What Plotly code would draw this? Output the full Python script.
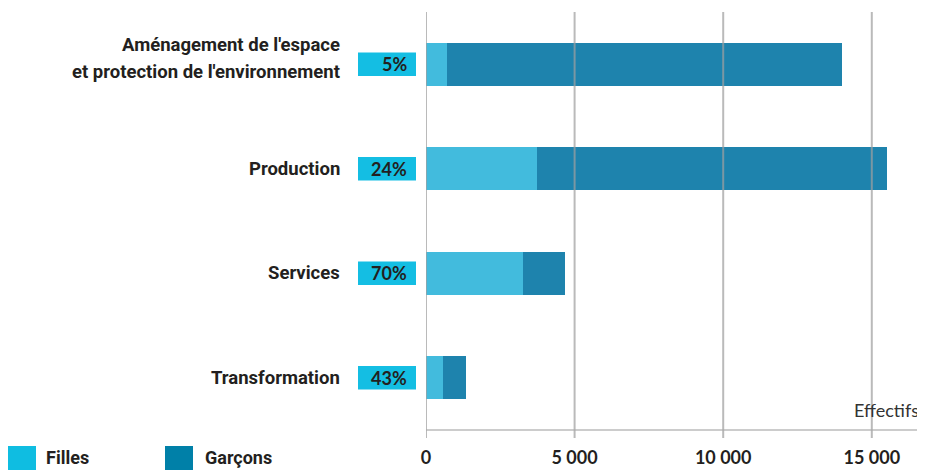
import plotly.graph_objects as go

categories = ["Aménagement de l'espace<br>et protection de l'environnement", "Production", "Services", "Transformation"]
cat_lines = [["Aménagement de l'espace", "et protection de l'environnement"], ["Production"], ["Services"], ["Transformation"]]
filles = [690, 3740, 3260, 575]
garcons = [13300, 11770, 1400, 770]
pct_labels = ["5%", "24%", "70%", "43%"]
tick_vals = [0, 5000, 10000, 15000]
tick_text = ["0", "5 000", "10 000", "15 000"]
series_names = ["Filles", "Garçons"]

# page body has an 8px default margin: the figure is placed at (8, 8)
OFF = 8
W, H = 925 - OFF, 470 - OFF
ML, MR, MT, MB = 426 - OFF, 0, 12 - OFF, 40
PW = W - ML - MR
PH = H - MT - MB
XMAX = 16790

def px2paperx(px):
    return (px - OFF - ML) / PW

def px2papery(py):
    return (H - MB - (py - OFF)) / PH

C_F_BAR = "#42BBDD"
C_G_BAR = "#1E83AD"
C_F_LEG = "#0FBDE1"
C_G_LEG = "#0080A8"
C_BOX = "#14BEE3"
GRID = "rgba(160,160,160,0.72)"
TXT = "#231f20"

ypos = list(range(len(categories)))

fig = go.Figure()
fig.add_trace(go.Bar(y=ypos, x=filles, orientation="h", marker=dict(color=C_F_BAR, line=dict(width=0)),
                     width=0.41, name=series_names[0], showlegend=False))
fig.add_trace(go.Bar(y=ypos, x=garcons, orientation="h", marker=dict(color=C_G_BAR, line=dict(width=0)),
                     width=0.41, name=series_names[1], showlegend=False))

shapes = []
annotations = []

for tv in tick_vals:
    shapes.append(dict(type="line", xref="x", yref="paper", x0=tv, x1=tv, y0=-8 / PH, y1=1,
                       line=dict(color=GRID, width=2), layer="above"))
shapes.append(dict(type="line", xref="paper", yref="paper", x0=0, x1=1, y0=0, y1=0,
                   line=dict(color="rgba(170,170,170,0.8)", width=1.5), layer="above"))

CAT_FONT = dict(family="Roboto", size=18.5, color=TXT)
for i, lines in enumerate(cat_lines):
    if len(lines) == 1:
        annotations.append(dict(x=px2paperx(342), y=i, xref="paper", yref="y", text="<b>" + lines[0] + "</b>",
                                showarrow=False, xanchor="right", yanchor="middle", font=CAT_FONT))
    else:
        offs = [-19.5 / 104.5, 7.5 / 104.5]
        for ln, o in zip(lines, offs):
            annotations.append(dict(x=px2paperx(342), y=i + o, xref="paper", yref="y", text="<b>" + ln + "</b>",
                                    showarrow=False, xanchor="right", yanchor="middle", font=CAT_FONT))
    shapes.append(dict(type="rect", xref="paper", yref="y", x0=px2paperx(358), x1=px2paperx(416),
                       y0=i - 0.113, y1=i + 0.113, fillcolor=C_BOX, line=dict(width=0), layer="above"))
    annotations.append(dict(x=px2paperx(409), y=i, xref="paper", yref="y", text="<b>" + pct_labels[i] + "</b>",
                            showarrow=False, xanchor="right", yanchor="middle",
                            font=dict(family="Lato", size=18, color=TXT)))

annotations.append(dict(x=px2paperx(921), y=px2papery(410), xref="paper", yref="paper", text="Effectifs",
                        showarrow=False, xanchor="right", yanchor="middle",
                        font=dict(family="Lato", size=18, color="#333333")))

leg = [(8, 36, 45, series_names[0], C_F_LEG), (165, 193, 204, series_names[1], C_G_LEG)]
for x0, x1, tx, name, col in leg:
    shapes.append(dict(type="rect", xref="paper", yref="paper", x0=px2paperx(x0), x1=px2paperx(x1),
                       y0=px2papery(446), y1=px2papery(472), fillcolor=col, line=dict(width=0)))
    annotations.append(dict(x=px2paperx(tx), y=px2papery(457), xref="paper", yref="paper",
                            text="<b>" + name + "</b>", showarrow=False, xanchor="left", yanchor="middle",
                            borderpad=0, font=dict(family="Roboto", size=18, color=TXT)))

fig.update_layout(
    width=W, height=H,
    margin=dict(l=ML, r=MR, t=MT, b=MB, pad=0, autoexpand=False),
    barmode="stack",
    plot_bgcolor="white", paper_bgcolor="white",
    showlegend=False,
    shapes=shapes, annotations=annotations,
    xaxis=dict(range=[0, XMAX], showgrid=False, zeroline=False, showline=False, automargin=False,
               tickvals=tick_vals, ticktext=tick_text, ticks="", ticklabelstandoff=15,
               tickfont=dict(family="Lato", size=18, color=TXT, weight="bold")),
    yaxis=dict(range=[3.5, -0.5], showgrid=False, zeroline=False, showline=False, automargin=False,
               showticklabels=False, ticks=""),
)

fig.write_html("out.html")
